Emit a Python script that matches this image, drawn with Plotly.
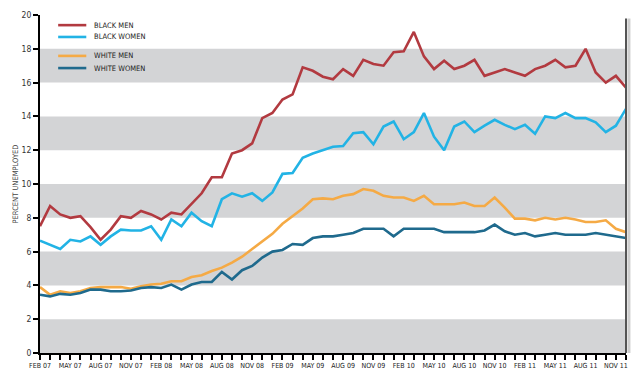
import plotly.graph_objects as go

# ---- data -------------------------------------------------------------
mon_names = ["JAN", "FEB", "MAR", "APR", "MAY", "JUN", "JUL", "AUG", "SEP", "OCT", "NOV", "DEC"]
months = []
for yr in range(2007, 2012):
    for m in range(12):
        if (yr == 2007 and m < 1):
            continue
        months.append(f"{mon_names[m]} {str(yr)[2:]}")

black_men = [7.5, 8.7, 8.2, 8.0, 8.1, 7.45, 6.7, 7.3, 8.1, 8.0, 8.4, 8.2, 7.9, 8.3, 8.2,
             8.85, 9.45, 10.4, 10.4, 11.8, 12.0, 12.4, 13.9, 14.2, 15.0, 15.3, 16.9, 16.7,
             16.35, 16.2, 16.8, 16.4, 17.35, 17.1, 17.0, 17.8, 17.85, 19.0, 17.55, 16.8,
             17.3, 16.8, 17.0, 17.35, 16.4, 16.6, 16.8, 16.6, 16.4, 16.8, 17.0, 17.35,
             16.9, 17.0, 18.0, 16.6, 16.0, 16.4, 15.7]
black_women = [6.65, 6.4, 6.15, 6.7, 6.6, 6.9, 6.4, 6.9, 7.3, 7.25, 7.25, 7.5, 6.7, 7.9,
               7.5, 8.3, 7.8, 7.5, 9.1, 9.45, 9.25, 9.45, 9.0, 9.5, 10.6, 10.65, 11.55,
               11.8, 12.0, 12.2, 12.25, 13.0, 13.07, 12.35, 13.4, 13.7, 12.65, 13.07, 14.2,
               12.8, 12.0, 13.4, 13.7, 13.07, 13.45, 13.8, 13.5, 13.25, 13.5, 12.97, 14.0,
               13.9, 14.2, 13.9, 13.9, 13.65, 13.07, 13.45, 14.45]
white_men = [3.9, 3.45, 3.65, 3.55, 3.65, 3.85, 3.9, 3.9, 3.9, 3.8, 3.95, 4.05, 4.1, 4.25,
             4.25, 4.5, 4.6, 4.85, 5.05, 5.35, 5.7, 6.15, 6.6, 7.05, 7.65, 8.1, 8.55, 9.1,
             9.15, 9.1, 9.3, 9.4, 9.7, 9.6, 9.3, 9.2, 9.2, 9.0, 9.3, 8.8, 8.8, 8.8, 8.9,
             8.7, 8.7, 9.2, 8.6, 7.95, 7.95, 7.85, 8.0, 7.9, 8.0, 7.9, 7.75, 7.75, 7.85,
             7.35, 7.15]
white_women = [3.45, 3.35, 3.5, 3.45, 3.55, 3.75, 3.75, 3.65, 3.65, 3.7, 3.85, 3.9, 3.85,
               4.05, 3.75, 4.05, 4.2, 4.2, 4.8, 4.35, 4.9, 5.15, 5.65, 6.0, 6.1, 6.45, 6.4,
               6.8, 6.9, 6.9, 7.0, 7.1, 7.35, 7.35, 7.35, 6.9, 7.35, 7.35, 7.35, 7.35, 7.15,
               7.15, 7.15, 7.15, 7.25, 7.6, 7.2, 7.0, 7.1, 6.9, 7.0, 7.1, 7.0, 7.0, 7.0,
               7.1, 7.0, 6.9, 6.8]

series_names = ["BLACK MEN", "BLACK WOMEN", "WHITE MEN", "WHITE WOMEN"]
series_values = [black_men, black_women, white_men, white_women]
series_colors = ["#b23a40", "#22b3e5", "#f5aa45", "#1f6a8d"]

y_ticks = list(range(0, 21, 2))
band_starts = [0, 4, 8, 12, 16]

# ---- figure -----------------------------------------------------------
FONT = "DejaVu Sans Condensed, Liberation Sans Narrow, DejaVu Sans, sans-serif"
xs = list(range(len(months)))
fig = go.Figure()
for name, vals, col in zip(series_names, series_values, series_colors):
    fig.add_trace(go.Scatter(x=xs, y=vals, mode="lines", name=name,
                             line=dict(color=col, width=2.6), showlegend=False))

shapes = []
for b in band_starts:
    shapes.append(dict(type="rect", xref="paper", yref="y", x0=0, x1=1, y0=b, y1=b + 2,
                       fillcolor="#d3d4d6", line=dict(width=0), layer="below"))
# right frame edge
shapes.append(dict(type="line", xref="paper", yref="paper", x0=1.005, x1=1.005, y0=0, y1=0.99,
                   line=dict(color="#cfcfcf", width=3)))
shapes.append(dict(type="line", xref="paper", yref="paper", x0=1, x1=1, y0=0, y1=0.99,
                   line=dict(color="#555555", width=2)))

# manual legend (compact, two groups)
annotations = []
leg_y = [0.970, 0.935, 0.879, 0.843]
for name, col, yy in zip(series_names, series_colors, leg_y):
    shapes.append(dict(type="line", xref="paper", yref="paper", x0=0.031, x1=0.079,
                       y0=yy, y1=yy, line=dict(color=col, width=2.6)))
    annotations.append(dict(xref="paper", yref="paper", x=0.088, y=yy, text=name,
                            showarrow=False, xanchor="left", yanchor="middle",
                            font=dict(family=FONT, size=7.5, color="#222222")))

ticktext = [m if i % 3 == 0 else "" for i, m in enumerate(months)]

# page body has an 8px margin: figure is sized/margined so the plot area lands on
# the reference pixel positions
fig.update_layout(
    width=624, height=368,
    margin=dict(l=32, r=6, t=7, b=23),
    paper_bgcolor="white", plot_bgcolor="white",
    font=dict(family=FONT, color="#333333"),
    shapes=shapes, annotations=annotations,
    showlegend=False,
    xaxis=dict(range=[0, len(months) - 1], tickvals=xs, ticktext=ticktext, tickangle=0,
               automargin=False,
               ticks="outside", ticklen=5, tickwidth=1.5, tickcolor="black",
               showline=True, linecolor="black", linewidth=2, showgrid=False, zeroline=False,
               tickfont=dict(size=7, color="#222222", family=FONT)),
    xaxis2=dict(range=[0, len(months) - 1], tickvals=xs, overlaying="x", anchor="y",
                automargin=False,
                side="bottom", ticks="inside", ticklen=4, tickwidth=1.5, tickcolor="black",
                showticklabels=False, showline=False, showgrid=False, zeroline=False),
    yaxis=dict(range=[0, 20], tickvals=y_ticks, ticks="outside", ticklen=5, tickwidth=1.5,
               automargin=False,
               tickcolor="black", showline=True, linecolor="black", linewidth=2,
               showgrid=False, zeroline=False,
               tickfont=dict(size=8.5, color="#333333", family=FONT),
               title=dict(text="PERCENT UNEMPLOYED", standoff=2,
                          font=dict(size=7.5, color="#444444", family=FONT))),
    yaxis2=dict(range=[0, 20], tickvals=y_ticks, overlaying="y", anchor="x", side="left",
                automargin=False,
                ticks="inside", ticklen=4, tickwidth=1.5, tickcolor="black",
                showticklabels=False, showline=False, showgrid=False, zeroline=False),
)

fig.write_html("out.html")
